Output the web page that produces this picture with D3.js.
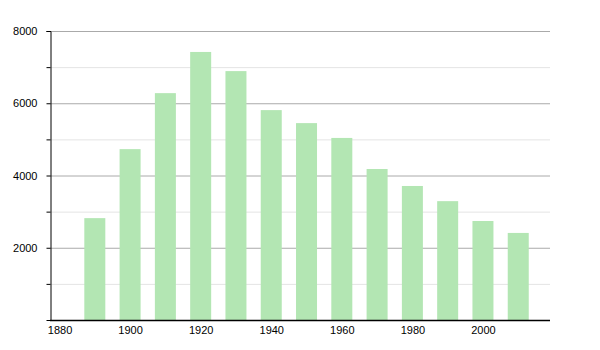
<!DOCTYPE html>
<html><head><meta charset="utf-8">
<script src="https://cdn.jsdelivr.net/npm/d3@7"></script>
<style>body{margin:0;background:#fff}svg{display:block}text{font-family:"Liberation Sans",Arial,sans-serif;font-size:11px;fill:#000}</style>
</head><body>
<svg id="c" width="600" height="350"></svg>
<script>
const years = [1890,1900,1910,1920,1930,1940,1950,1960,1970,1980,1990,2000,2010];
const population = [2820,4730,6280,7420,6890,5810,5450,5040,4180,3710,3290,2740,2410];
const yMajorTicks = [2000,4000,6000,8000];
const yMinorTicks = [1000,3000,5000,7000];
const xTicks = [1880,1900,1920,1940,1960,1980,2000];

const svg = d3.select("#c");
const x = d3.scaleLinear().domain([1877.3,2019]).range([50,550]);
const y = d3.scaleLinear().domain([0,8000]).range([320,31]);
const barW = 21;

// minor grid
svg.append("g").selectAll("line").data(yMinorTicks).join("line")
  .attr("x1",50).attr("x2",550).attr("y1",d=>y(d)+0.5).attr("y2",d=>y(d)+0.5)
  .attr("stroke","#e4e4e4").attr("stroke-width",1);
// major grid
svg.append("g").selectAll("line").data(yMajorTicks).join("line")
  .attr("x1",50).attr("x2",550).attr("y1",d=>y(d)+0.5).attr("y2",d=>y(d)+0.5)
  .attr("stroke","#aaaaaa").attr("stroke-width",1);

// bars
svg.append("g").selectAll("rect").data(years).join("rect")
  .attr("x",(d)=>x(d)-barW/2).attr("width",barW)
  .attr("y",(d,i)=>y(population[i])).attr("height",(d,i)=>y(0)-y(population[i]))
  .attr("fill","#b3e6b3");

// y axis
const yAxis = d3.axisLeft(y).tickValues(yMajorTicks).tickSize(4).tickPadding(9).tickFormat(d3.format("d"));
const gy = svg.append("g").attr("transform","translate(50.5,0)").call(yAxis);
gy.select(".domain").attr("stroke","#000");
gy.selectAll(".tick text").style("font-family","Liberation Sans, Arial, sans-serif").style("font-size","11px");
svg.append("g").attr("transform","translate(50.5,0)").call(d3.axisLeft(y).tickValues(yMinorTicks).tickSize(4).tickFormat(""))
  .select(".domain").remove();

// x axis
const xAxis = d3.axisBottom(x).tickValues(xTicks).tickSize(0).tickPadding(6).tickFormat(d3.format("d"));
const gx = svg.append("g").attr("transform","translate(0,320.5)").call(xAxis);
gx.select(".domain").attr("stroke","#000").attr("stroke-width",1.3).attr("d","M50,0H550");
gx.selectAll(".tick text").style("font-family","Liberation Sans, Arial, sans-serif").style("font-size","11px");
</script>
</body></html>
